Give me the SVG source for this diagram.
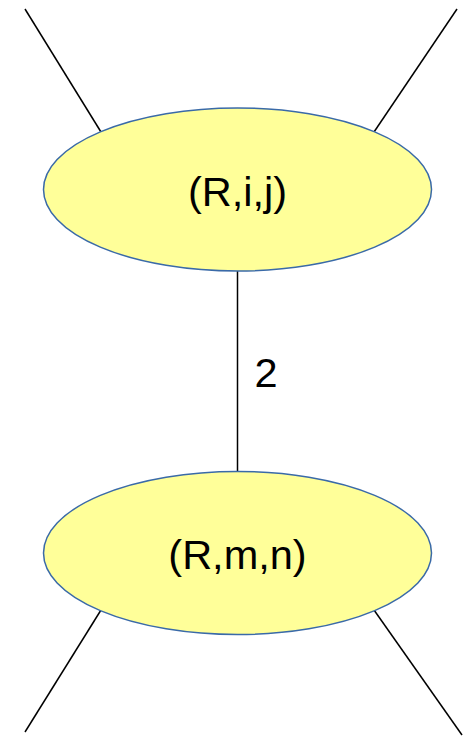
<svg xmlns="http://www.w3.org/2000/svg" width="465" height="739" viewBox="0 0 465 739">
  <style>
    .edge { stroke: #000; stroke-width: 1.5; fill: none; }
    .node { fill: #ffff99; stroke: #3a6aa8; stroke-width: 1.5; }
    .lbl { font-family: "Liberation Sans", Arial, sans-serif; font-size: 41.5px; fill: #000; }
  </style>
  <rect width="465" height="739" fill="#fff"/>
  <g id="connectors">
    <line class="edge" x1="25" y1="9" x2="101" y2="132"/>
    <line class="edge" x1="457" y1="9" x2="374" y2="132"/>
    <line class="edge" x1="237.5" y1="270" x2="237.5" y2="472"/>
    <line class="edge" x1="101" y1="610" x2="25" y2="732"/>
    <line class="edge" x1="374" y1="610" x2="462" y2="735"/>
    <text class="lbl" x="254.5" y="387">2</text>
  </g>
  <g id="node-rij">
    <ellipse class="node" cx="237.5" cy="189.5" rx="194" ry="81.5"/>
    <text class="lbl" x="237.5" y="205.5" text-anchor="middle">(R,i,j)</text>
  </g>
  <g id="node-rmn">
    <ellipse class="node" cx="237.5" cy="553" rx="194" ry="81.5"/>
    <text class="lbl" x="237.5" y="569" text-anchor="middle">(R,m,n)</text>
  </g>
</svg>
